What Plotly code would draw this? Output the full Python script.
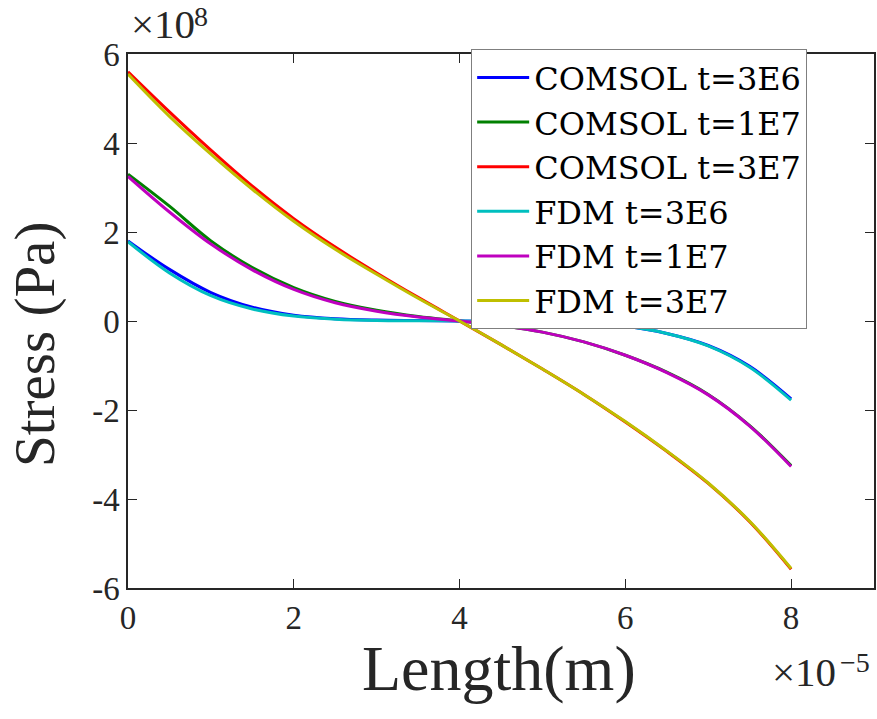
import plotly.graph_objects as go

# Length in units of 1e-5 m, stress in units of 1e8 Pa
x_len = [0, 0.5, 1, 1.5, 2, 2.5, 3, 3.5, 4, 4.5, 5, 5.5, 6, 6.5, 7, 7.5, 8]

comsol_3e6 = [1.80, 1.16, 0.64, 0.31, 0.13, 0.05, 0.02, 0.01, 0.0, -0.01, -0.02, -0.05, -0.12, -0.28, -0.55, -1.02, -1.75]
comsol_1e7 = [3.30, 2.58, 1.80, 1.20, 0.75, 0.44, 0.24, 0.10, 0.0, -0.10, -0.25, -0.47, -0.77, -1.15, -1.65, -2.35, -3.25]
comsol_3e7 = [5.60, 4.70, 3.84, 3.03, 2.30, 1.66, 1.08, 0.53, 0.0, -0.53, -1.08, -1.65, -2.27, -2.93, -3.65, -4.51, -5.58]
fdm_3e6 = [1.78, 1.08, 0.57, 0.27, 0.11, 0.04, 0.01, 0.005, 0.0, -0.01, -0.02, -0.05, -0.12, -0.28, -0.56, -1.04, -1.78]
fdm_1e7 = [3.25, 2.45, 1.73, 1.15, 0.71, 0.41, 0.22, 0.09, 0.0, -0.10, -0.25, -0.47, -0.77, -1.16, -1.66, -2.36, -3.27]
fdm_3e7 = [5.55, 4.60, 3.75, 2.96, 2.24, 1.61, 1.05, 0.51, 0.0, -0.53, -1.08, -1.65, -2.26, -2.92, -3.64, -4.50, -5.56]

series = [
    ("COMSOL t=3E6", comsol_3e6, "#0000ff"),
    ("COMSOL t=1E7", comsol_1e7, "#008000"),
    ("COMSOL t=3E7", comsol_3e7, "#ff0000"),
    ("FDM t=3E6", fdm_3e6, "#00bfbf"),
    ("FDM t=1E7", fdm_1e7, "#bf00bf"),
    ("FDM t=3E7", fdm_3e7, "#bfbf00"),
]

x_ticks = [0, 2, 4, 6, 8]
y_ticks = [-6, -4, -2, 0, 2, 4, 6]
y_ticktext = ["-6", "-4", "-2", "0", "2", "4", "6"]

FONT = "Liberation Serif"
LEG_FONT = "DejaVu Serif"
AX = "#262626"

fig = go.Figure()
for name, vals, col in series:
    fig.add_trace(go.Scatter(x=x_len, y=vals, mode="lines", name=name,
                             line=dict(color=col, width=3, shape="spline", smoothing=1.0)))

axis_common = dict(showgrid=False, zeroline=False, showline=True, linecolor=AX,
                   linewidth=1.5, mirror="allticks", ticks="inside", ticklen=9,
                   tickcolor=AX, tickwidth=1.2,
                   tickfont=dict(family=FONT, size=33, color=AX))

def note(text, x, y, xanchor, yanchor, xshift, yshift, size, angle=0):
    return dict(text=text, xref="paper", yref="paper", x=x, y=y,
                xanchor=xanchor, yanchor=yanchor, xshift=xshift, yshift=yshift,
                textangle=angle, showarrow=False,
                font=dict(family=FONT, size=size, color=AX))

fig.update_layout(
    width=877, height=719,
    margin=dict(l=128, r=1, t=54, b=131),
    paper_bgcolor="white", plot_bgcolor="white",
    xaxis=dict(range=[0, 9], tickvals=x_ticks, **axis_common),
    yaxis=dict(range=[-6, 6], tickvals=y_ticks, ticktext=y_ticktext, **axis_common),
    legend=dict(x=0.46, y=1.009, xanchor="left", yanchor="top",
                bgcolor="white", bordercolor="#7f7f7f", borderwidth=1,
                font=dict(family=LEG_FONT, size=32, color="black"),
                itemwidth=52, tracegroupgap=0),
    showlegend=True,
    annotations=[
        # x10^8 above the y axis
        note("×10", 0.0, 1.0, "left", "middle", 1, 30, 41),
        note("8", 0.0, 1.0, "left", "middle", 64, 38, 28),
        # x10^-5 below the x axis, at the right
        note("×10", 1.0, 0.0, "right", "middle", -36, -84, 41),
        note("−5", 1.0, 0.0, "right", "middle", -2, -74, 28),
        note("Length(m)", 0.497, 0.0, "center", "middle", 0, -80, 64),
        note("Stress (Pa)", 0.0, 0.455, "center", "middle", -93, 0, 57, angle=-90),
    ],
)

fig.write_html("out.html")
